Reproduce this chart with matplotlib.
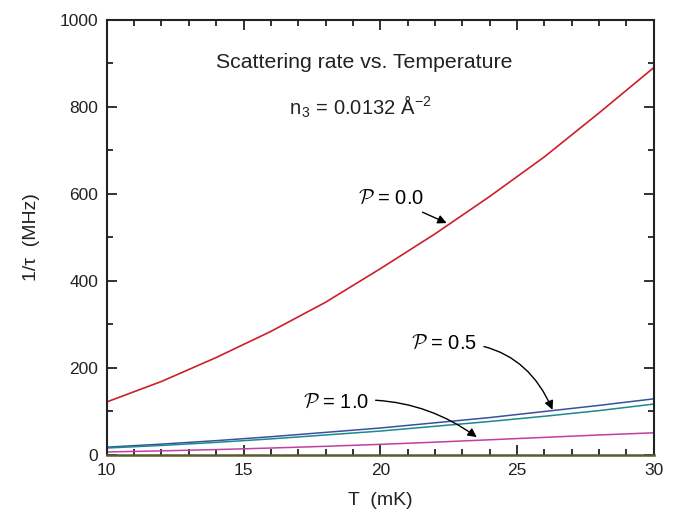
import numpy as np
import matplotlib
matplotlib.use('Agg')
import matplotlib.pyplot as plt
from matplotlib.ticker import MultipleLocator

plt.rcParams['font.family'] = ['Liberation Sans', 'DejaVu Sans']
plt.rcParams['mathtext.fontset'] = 'cm'

# temperature (mK)
T = [10, 12, 14, 16, 18, 20, 22, 24, 26, 28, 30]
# scattering rates (MHz)
rate_p00 = [122, 169, 224, 284, 351, 428, 508, 594, 685, 786, 890]
rate_p05a = [18, 25, 33, 42, 52, 62, 74, 86, 100, 114, 129]
rate_p05b = [16, 22, 29, 37, 46, 55, 66, 77, 89, 102, 117]
rate_p10 = [7, 9.5, 12.5, 16, 20, 24.5, 29.5, 35, 40.5, 46, 51]

fig = plt.figure(figsize=(6.76, 5.15), dpi=100)
ax = fig.add_axes([0.158, 0.1165, 0.809, 0.845])

ax.plot(T, rate_p00, color='#cc1f2a', lw=1.2)
ax.plot(T, rate_p05a, color='#3a4fa0', lw=1.1)
ax.plot(T, rate_p05b, color='#1a8a8a', lw=1.1)
ax.plot(T, rate_p10, color='#c040a0', lw=1.1)

ax.set_xlim(10, 30)
ax.set_ylim(0, 1000)
ax.xaxis.set_major_locator(MultipleLocator(5))
ax.xaxis.set_minor_locator(MultipleLocator(1))
ax.yaxis.set_major_locator(MultipleLocator(200))
ax.yaxis.set_minor_locator(MultipleLocator(100))
ax.tick_params(which='both', direction='in', top=True, right=True, labelsize=12.5, width=1.3,
               colors='#222222')
ax.tick_params(which='major', length=7, pad=6)
ax.tick_params(which='minor', length=4)
for s in ax.spines.values():
    s.set_linewidth(1.5)
    s.set_color('#222222')
ax.spines['bottom'].set_color('#5b5b30')
ax.spines['bottom'].set_linewidth(1.8)

ax.set_xlabel('T  (mK)', fontsize=14, labelpad=10, color='#222222')
ax.set_ylabel('1/τ  (MHz)', fontsize=14, labelpad=14, color='#222222')

ax.text(0.471, 0.903, 'Scattering rate vs. Temperature', transform=ax.transAxes,
        ha='center', va='center', fontsize=15.3, color='#222222')
ax.text(0.464, 0.80, r'n$_{\mathregular{3}}$ = 0.0132 Å$^{\mathregular{-2}}$', transform=ax.transAxes,
        ha='center', va='center', fontsize=14.5, color='#222222')

arrow = dict(arrowstyle='-|>', color='black', lw=1.0, mutation_scale=13)
ax.annotate(r'$\mathcal{P}$ = 0.0', xy=(22.43, 533), xytext=(19.2, 590),
            fontsize=14.5, va='center', ha='left',
            arrowprops=dict(arrow, connectionstyle='arc3,rad=0', shrinkA=3, shrinkB=0))
ax.annotate(r'$\mathcal{P}$ = 0.5', xy=(26.3, 104), xytext=(21.13, 257),
            fontsize=14.5, va='center', ha='left',
            arrowprops=dict(arrow, connectionstyle='arc3,rad=-0.35', shrinkA=3, shrinkB=0))
ax.annotate(r'$\mathcal{P}$ = 1.0', xy=(23.53, 41), xytext=(17.16, 122),
            fontsize=14.5, va='center', ha='left',
            arrowprops=dict(arrow, connectionstyle='arc3,rad=-0.2', shrinkA=3, shrinkB=0))

fig.savefig('out.png', dpi=100)
